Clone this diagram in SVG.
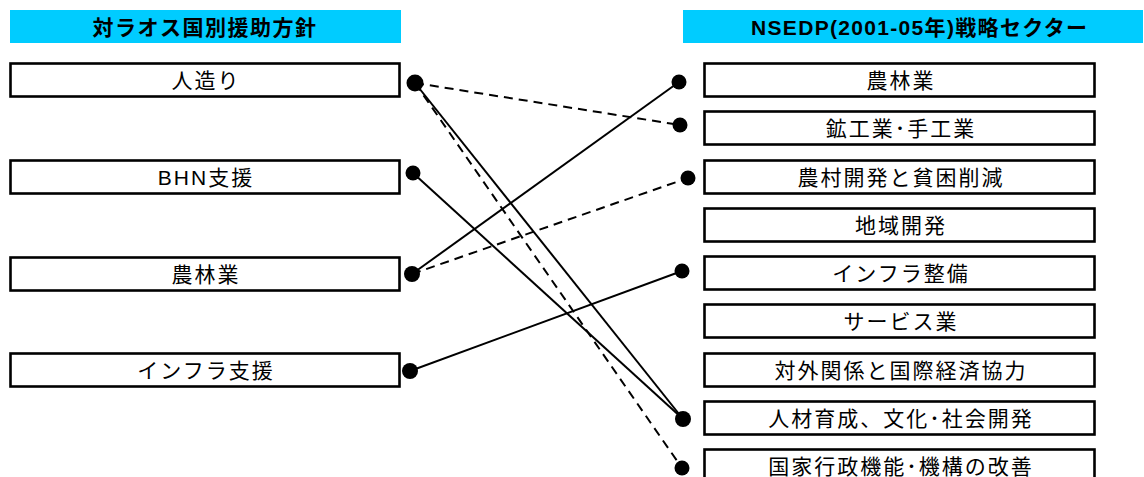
<svg xmlns="http://www.w3.org/2000/svg" width="1144" height="477" viewBox="0 0 1144 477">
<style>
.hdr{fill:#00CCFF}
.ht{font-family:"Liberation Sans","Noto Sans CJK JP",sans-serif;font-size:21px;font-weight:bold;fill:#000;text-anchor:middle;dominant-baseline:central}
.box{fill:#fff;stroke:#000;stroke-width:2.6}
.bt{font-family:"Liberation Sans","Noto Sans CJK JP",sans-serif;font-size:21px;fill:#000;text-anchor:middle;dominant-baseline:central;letter-spacing:2px}
.ln{stroke:#000;stroke-width:2;fill:none}
.dash{stroke-dasharray:9 6}
.dot{fill:#000}
</style>
<g id="header-left"><rect class="hdr" x="10" y="10" width="391" height="33"/><text class="ht" x="205" y="27" letter-spacing="1.5">対ラオス国別援助方針</text></g>
<g id="header-right"><rect class="hdr" x="683" y="10" width="460" height="33"/><text class="ht" x="919" y="27" textLength="336" lengthAdjust="spacing">NSEDP(2001-05年)戦略セクター</text></g>

<g id="L1"><rect class="box" x="10.5" y="63.5" width="389" height="33"/><text class="bt" x="206" y="80">人造り</text></g>
<g id="L2"><rect class="box" x="10.5" y="160.5" width="389" height="33"/><text class="bt" x="206" y="177" letter-spacing="0.5">BHN支援</text></g>
<g id="L3"><rect class="box" x="10.5" y="257.5" width="389" height="33"/><text class="bt" x="206" y="274">農林業</text></g>
<g id="L4"><rect class="box" x="10.5" y="353.5" width="389" height="33"/><text class="bt" x="206" y="370">インフラ支援</text></g>

<g id="R1"><rect class="box" x="704.5" y="63.5" width="390" height="33"/><text class="bt" x="901" y="80">農林業</text></g>
<g id="R2"><rect class="box" x="704.5" y="111.5" width="390" height="33"/><text class="bt" x="901" y="128">鉱工業･手工業</text></g>
<g id="R3"><rect class="box" x="704.5" y="160.5" width="390" height="33"/><text class="bt" x="901" y="177">農村開発と貧困削減</text></g>
<g id="R4"><rect class="box" x="704.5" y="208.5" width="390" height="33"/><text class="bt" x="901" y="225">地域開発</text></g>
<g id="R5"><rect class="box" x="704.5" y="256.5" width="390" height="33"/><text class="bt" x="901" y="273">インフラ整備</text></g>
<g id="R6"><rect class="box" x="704.5" y="304.5" width="390" height="33"/><text class="bt" x="901" y="321">サービス業</text></g>
<g id="R7"><rect class="box" x="704.5" y="353.5" width="390" height="33"/><text class="bt" x="901" y="370">対外関係と国際経済協力</text></g>
<g id="R8"><rect class="box" x="704.5" y="401.5" width="390" height="33"/><text class="bt" x="901" y="418">人材育成、文化･社会開発</text></g>
<g id="R9"><rect class="box" x="704.5" y="449.5" width="390" height="33"/><text class="bt" x="901" y="466">国家行政機能･機構の改善</text></g>

<g id="connectors">
<line class="ln dash" x1="415" y1="83" x2="680" y2="125"/>
<line class="ln" x1="415" y1="83" x2="683" y2="419"/>
<line class="ln dash" x1="415" y1="83" x2="682" y2="468"/>
<line class="ln" x1="413" y1="173" x2="683" y2="419"/>
<line class="ln" x1="412" y1="274" x2="679" y2="82"/>
<line class="ln dash" x1="412" y1="274" x2="688" y2="178"/>
<line class="ln" x1="410" y1="371" x2="682" y2="271"/>
<circle class="dot" cx="415" cy="83" r="8.5"/>
<circle class="dot" cx="413" cy="173" r="7.5"/>
<circle class="dot" cx="412" cy="274" r="8"/>
<circle class="dot" cx="410" cy="371" r="8"/>
<circle class="dot" cx="679" cy="82" r="7.5"/>
<circle class="dot" cx="680" cy="125" r="7.5"/>
<circle class="dot" cx="688" cy="178" r="7.5"/>
<circle class="dot" cx="682" cy="271" r="7.5"/>
<circle class="dot" cx="683" cy="419" r="8"/>
<circle class="dot" cx="682" cy="468" r="7.5"/>
</g>
</svg>
